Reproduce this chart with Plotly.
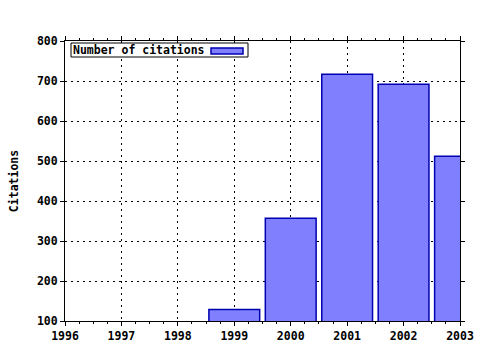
import plotly.graph_objects as go

years = [1999, 2000, 2001, 2002, 2003]
citations = [129, 357, 717, 692, 512]
series_name = "Number of citations"
y_title = "Citations"
x_ticks = [1996, 1997, 1998, 1999, 2000, 2001, 2002, 2003]
y_ticks = [100, 200, 300, 400, 500, 600, 700, 800]

FONT = dict(family="DejaVu Sans Mono", size=11.5, color="black")

fig = go.Figure()
fig.add_trace(go.Bar(
    x=years, y=citations, width=0.9, name=series_name,
    marker=dict(color="#8080ff", line=dict(color="#0000b0", width=1.5)),
    showlegend=False,
))

axis_common = dict(
    showline=True, linecolor="black", linewidth=1, mirror="ticks",
    ticks="outside", ticklen=4, tickcolor="black",
    showgrid=True, gridcolor="black", gridwidth=1, griddash="2px,4px",
    zeroline=False, tickfont=dict(FONT, weight="bold"), automargin=False,
)

fig.update_xaxes(axis_common, range=[1996, 2003], tickvals=x_ticks,
                 ticktext=[str(v) for v in x_ticks], ticklabelstandoff=0,
                 minor=dict(dtick=0.25, ticks="outside", ticklen=2, tickcolor="black", showgrid=False))
fig.update_yaxes(axis_common, range=[100, 800], tickvals=y_ticks,
                 title=dict(text=y_title, font=dict(FONT, weight="bold"), standoff=15))

# legend box (text + swatch on the right, as in the reference)
PW, PH, L, T = 395, 280, 65, 41
def px(x):
    return (x - L) / PW
def py(y):
    return 1 - (y - T) / PH

fig.add_shape(type="rect", xref="paper", yref="paper",
              x0=px(71), x1=px(248), y0=py(57), y1=py(43),
              fillcolor="white", line=dict(color="black", width=1))
fig.add_shape(type="rect", xref="paper", yref="paper",
              x0=px(211), x1=px(243), y0=py(54), y1=py(48),
              fillcolor="#8080ff", line=dict(color="#0000b0", width=1.5))
fig.add_annotation(
    xref="paper", yref="paper", x=px(72), y=py(50), xanchor="left", yanchor="middle",
    text=series_name, showarrow=False, align="left",
    font=dict(FONT, weight="bold"), borderpad=0,
)

fig.update_layout(
    width=480, height=350,
    margin=dict(l=65, r=20, t=41, b=29),
    paper_bgcolor="white", plot_bgcolor="white",
    font=FONT, bargap=0.1,
)

fig.write_html("out.html")
